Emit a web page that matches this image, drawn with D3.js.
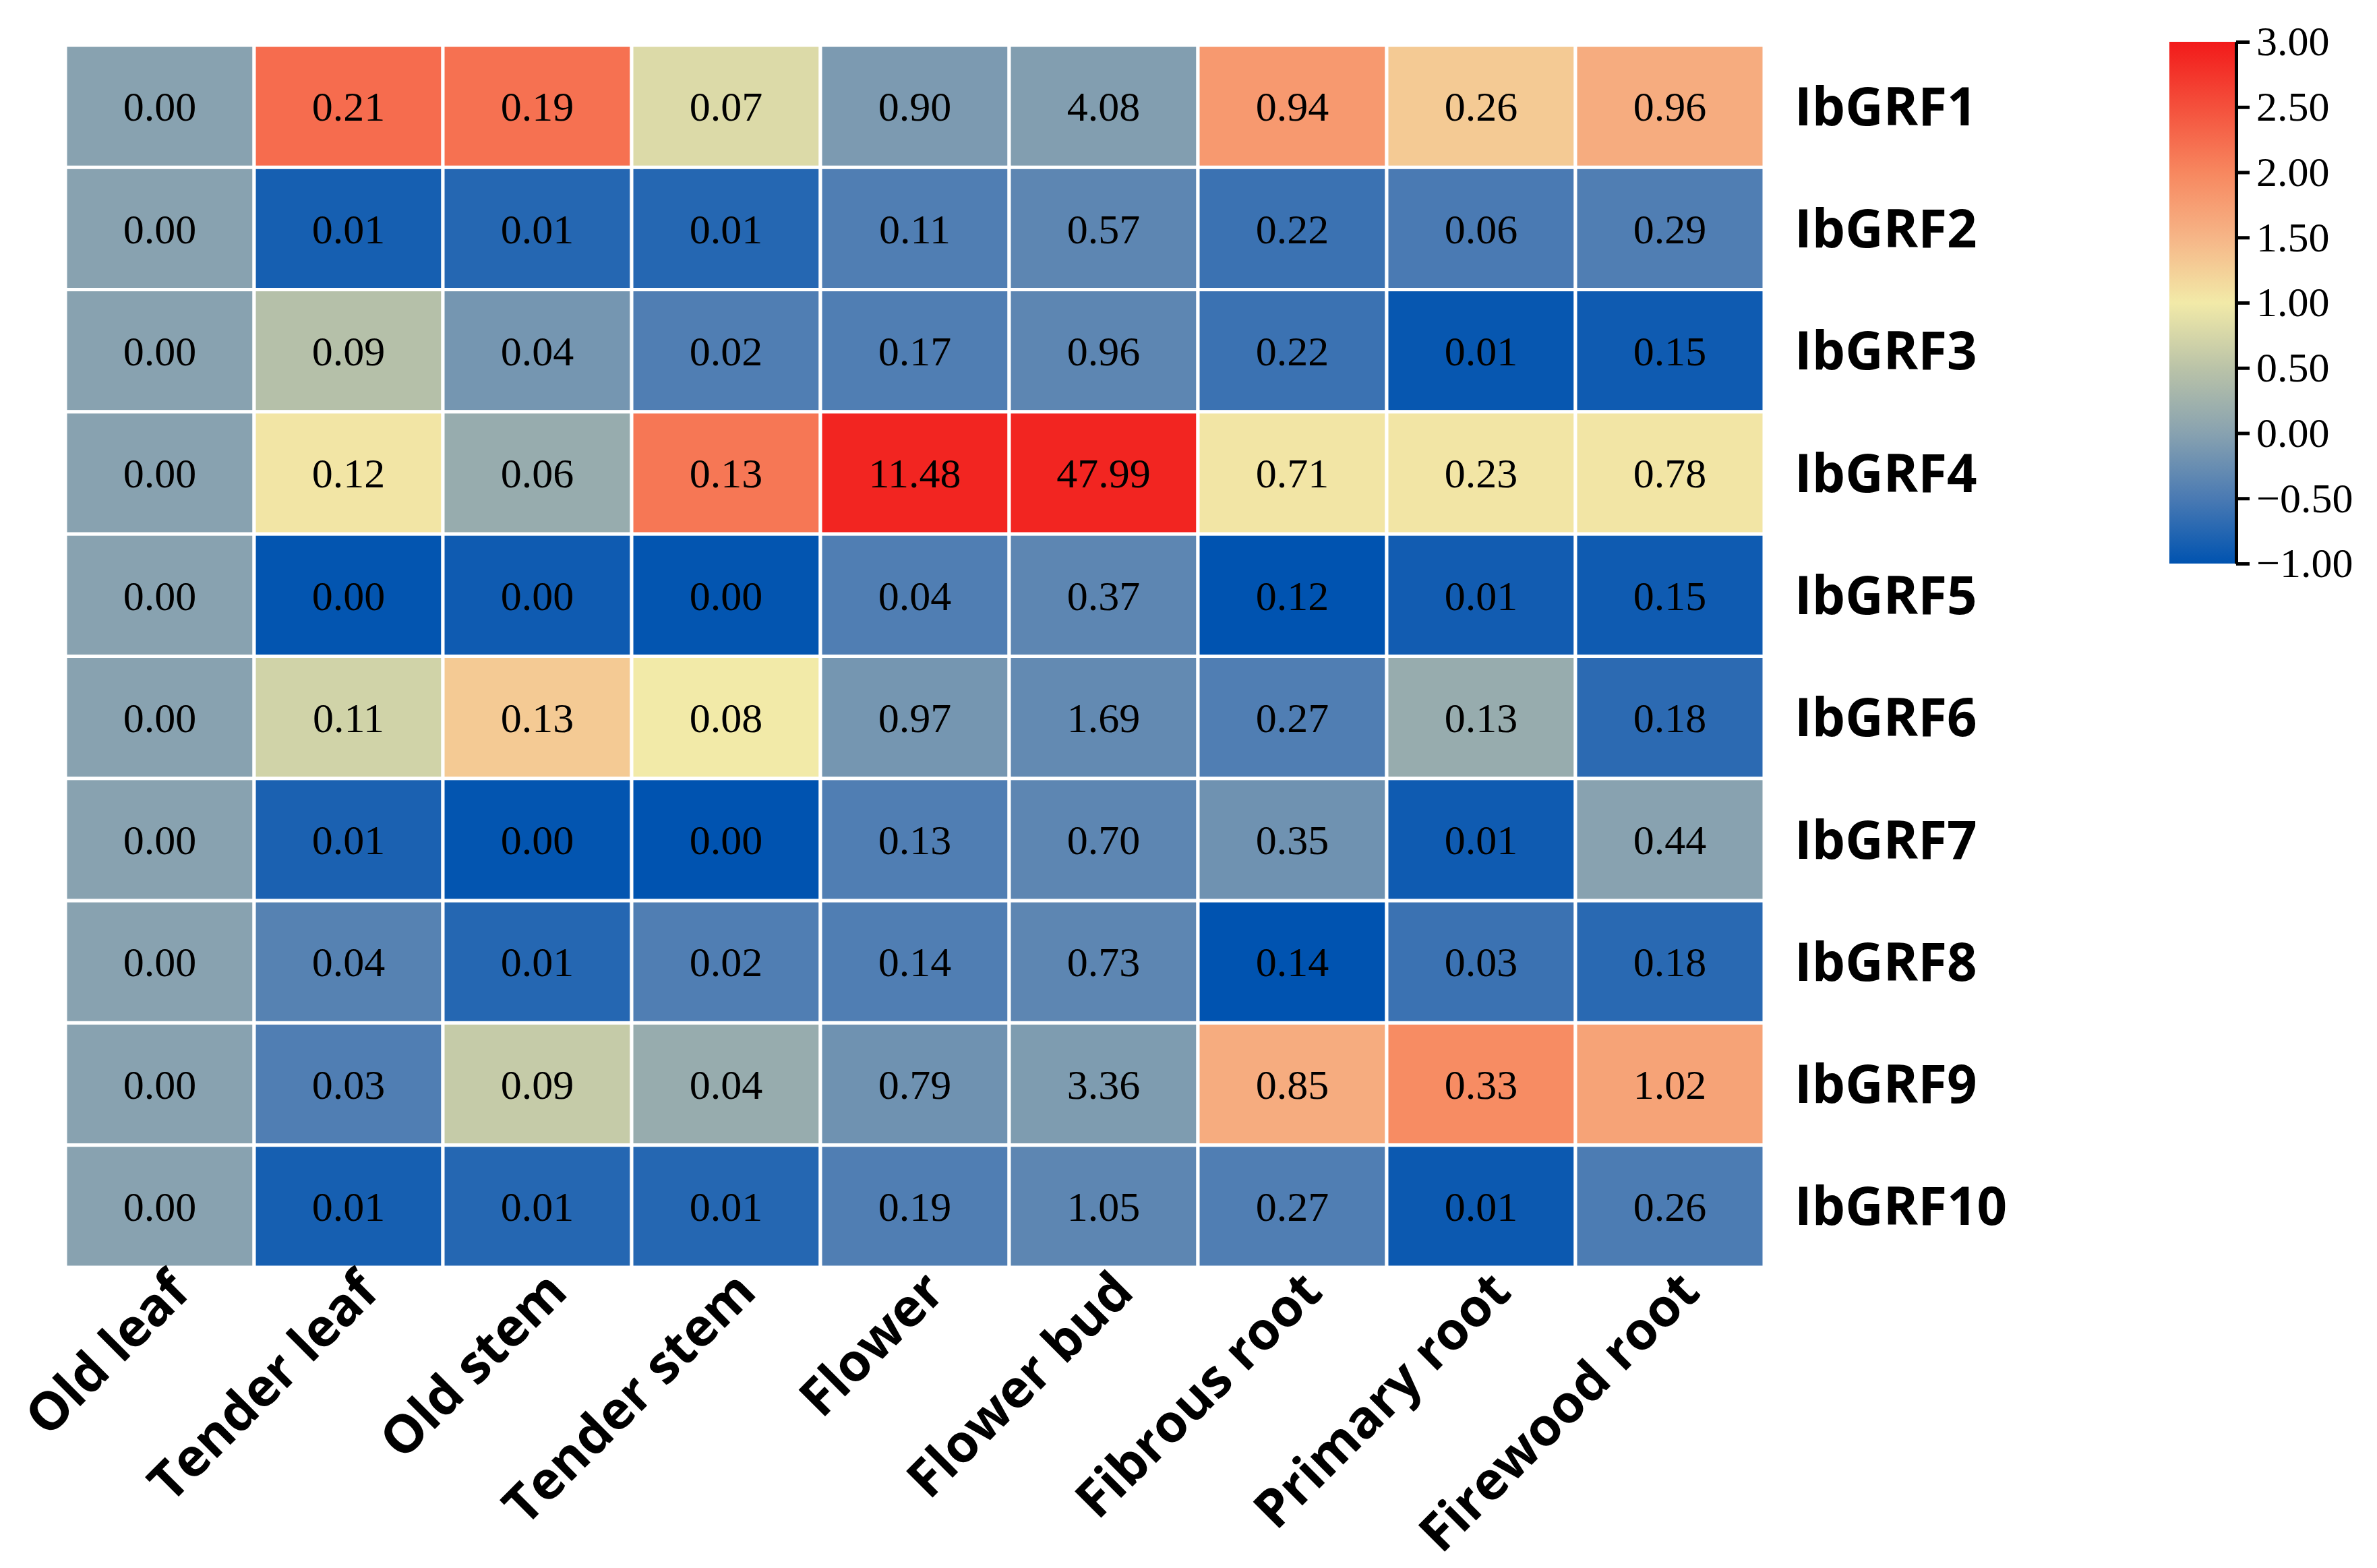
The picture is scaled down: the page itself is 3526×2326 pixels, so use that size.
<!DOCTYPE html>
<html>
<head>
<meta charset="utf-8">
<script src="https://cdn.jsdelivr.net/npm/d3@7"></script>
<style>
  body { margin: 0; background: #fff; }
</style>
</head>
<body>
<svg id="chart" width="3526" height="2326"></svg>
<script>
// tissues (columns) and genes (rows)
const tissues = ["Old leaf", "Tender leaf", "Old stem", "Tender stem", "Flower",
                 "Flower bud", "Fibrous root", "Primary root", "Firewood root"];
const genes = ["IbGRF1", "IbGRF2", "IbGRF3", "IbGRF4", "IbGRF5",
               "IbGRF6", "IbGRF7", "IbGRF8", "IbGRF9", "IbGRF10"];

// numbers printed in the cells
const labelValues = [
  [0.00, 0.21, 0.19, 0.07, 0.90, 4.08, 0.94, 0.26, 0.96],
  [0.00, 0.01, 0.01, 0.01, 0.11, 0.57, 0.22, 0.06, 0.29],
  [0.00, 0.09, 0.04, 0.02, 0.17, 0.96, 0.22, 0.01, 0.15],
  [0.00, 0.12, 0.06, 0.13, 11.48, 47.99, 0.71, 0.23, 0.78],
  [0.00, 0.00, 0.00, 0.00, 0.04, 0.37, 0.12, 0.01, 0.15],
  [0.00, 0.11, 0.13, 0.08, 0.97, 1.69, 0.27, 0.13, 0.18],
  [0.00, 0.01, 0.00, 0.00, 0.13, 0.70, 0.35, 0.01, 0.44],
  [0.00, 0.04, 0.01, 0.02, 0.14, 0.73, 0.14, 0.03, 0.18],
  [0.00, 0.03, 0.09, 0.04, 0.79, 3.36, 0.85, 0.33, 1.02],
  [0.00, 0.01, 0.01, 0.01, 0.19, 1.05, 0.27, 0.01, 0.26]
];

// values behind the cell colours
const colorValues = [
  [0.00, 2.25, 2.20, 0.80, -0.10, -0.05, 1.80, 1.30, 1.60],
  [0.00, -0.85, -0.75, -0.75, -0.45, -0.35, -0.60, -0.50, -0.45],
  [0.00, 0.45, -0.15, -0.45, -0.45, -0.35, -0.60, -0.95, -0.90],
  [0.00, 1.05, 0.15, 2.15, 2.90, 2.90, 1.05, 1.05, 1.05],
  [0.00, -0.98, -0.90, -0.98, -0.45, -0.35, -1.00, -0.88, -0.90],
  [0.00, 0.70, 1.30, 1.00, -0.15, -0.30, -0.45, 0.15, -0.70],
  [0.00, -0.82, -0.98, -1.00, -0.45, -0.35, -0.20, -0.90, 0.00],
  [0.00, -0.40, -0.75, -0.45, -0.45, -0.35, -1.00, -0.60, -0.72],
  [0.00, -0.45, 0.60, 0.15, -0.20, -0.08, 1.60, 1.95, 1.70],
  [0.00, -0.85, -0.75, -0.75, -0.45, -0.35, -0.45, -0.92, -0.48]
];

const colorStops = [-1, -0.5, 0, 0.5, 1, 1.5, 2, 2.5, 3];
const colorHex = ["#0053b0", "#4a7ab3", "#88a2b0", "#bac3a8", "#f2eaa8",
                  "#f6b587", "#f7875f", "#f4503c", "#f21a1a"];
const barTicks = [3, 2.5, 2, 1.5, 1, 0.5, 0, -0.5, -1];

/***** SETUP *****/
const svg = d3.select("#chart");
const margin = {left: 97, top: 67};
const plotWidth = 2520;
const plotHeight = 1813;

const xScale = d3.scaleBand().domain(tissues).range([0, plotWidth]).padding(0);
const yScale = d3.scaleBand().domain(genes).range([0, plotHeight]).padding(0);
const color = d3.scaleLinear().domain(colorStops).range(colorHex).clamp(true);

const cells = [];
genes.forEach((g, i) => tissues.forEach((t, j) => {
    cells.push({gene: g, tissue: t, label: labelValues[i][j], val: colorValues[i][j]});
}));

const plot = svg.append("g")
    .attr("transform", `translate(${margin.left}, ${margin.top})`);

/***** CELLS *****/
plot.selectAll(".cell")
    .data(cells)
    .enter()
    .append("rect")
    .attr("class", "cell")
    .attr("x", d => xScale(d.tissue))
    .attr("y", d => yScale(d.gene))
    .attr("width", xScale.bandwidth())
    .attr("height", yScale.bandwidth())
    .style("fill", d => color(d.val))
    .style("stroke", "#fff")
    .style("stroke-width", 5);

plot.selectAll(".cellText")
    .data(cells)
    .enter()
    .append("text")
    .attr("class", "cellText")
    .attr("x", d => xScale(d.tissue) + xScale.bandwidth() / 2)
    .attr("y", d => yScale(d.gene) + yScale.bandwidth() / 2)
    .attr("text-anchor", "middle")
    .attr("dy", "0.35em")
    .style("font-family", "'Liberation Serif', 'Times New Roman', serif")
    .style("font-size", 62)
    .text(d => d3.format(".2f")(d.label));

/***** ROW LABELS *****/
plot.selectAll(".rowLabel")
    .data(genes)
    .enter()
    .append("text")
    .attr("class", "rowLabel")
    .attr("x", plotWidth + 45)
    .attr("y", d => yScale(d) + yScale.bandwidth() / 2)
    .attr("dy", "0.36em")
    .style("font-family", "'Open Sans', sans-serif")
    .style("font-weight", 700)
    .style("font-size", 78)
    .text(d => d);

/***** COLUMN LABELS *****/
plot.selectAll(".colLabel")
    .data(tissues)
    .enter()
    .append("text")
    .attr("class", "colLabel")
    .attr("text-anchor", "end")
    .attr("transform", d => `translate(${xScale(d) + xScale.bandwidth() / 2 + 48}, ${plotHeight + 40}) rotate(-45)`)
    .style("font-family", "'Open Sans', sans-serif")
    .style("font-weight", 700)
    .style("font-size", 78)
    .text(d => d);

/***** COLOUR BAR *****/
const bar = {x: 3218, y: 62, w: 99, h: 774};
const barScale = d3.scaleLinear().domain([-1, 3]).range([bar.y + bar.h, bar.y]);

const grad = svg.append("defs").append("linearGradient")
    .attr("id", "barGrad")
    .attr("x1", 0).attr("y1", 1).attr("x2", 0).attr("y2", 0);
grad.selectAll("stop")
    .data(colorStops)
    .enter()
    .append("stop")
    .attr("offset", d => (d + 1) / 4)
    .attr("stop-color", d => color(d));

svg.append("rect")
    .attr("x", bar.x)
    .attr("y", bar.y)
    .attr("width", bar.w)
    .attr("height", bar.h)
    .style("fill", "url(#barGrad)");

const barAxis = svg.append("g")
    .attr("transform", `translate(${bar.x + bar.w}, 0)`)
    .call(d3.axisRight(barScale)
        .tickValues(barTicks)
        .tickSize(20)
        .tickSizeOuter(0)
        .tickPadding(10)
        .tickFormat(d3.format(".2f")));

barAxis.selectAll("path, line")
    .style("stroke", "#000")
    .style("stroke-width", 5);
barAxis.selectAll("text")
    .style("font-family", "'Liberation Serif', 'Times New Roman', serif")
    .style("font-size", 62)
    .style("fill", "#000");
</script>
</body>
</html>
